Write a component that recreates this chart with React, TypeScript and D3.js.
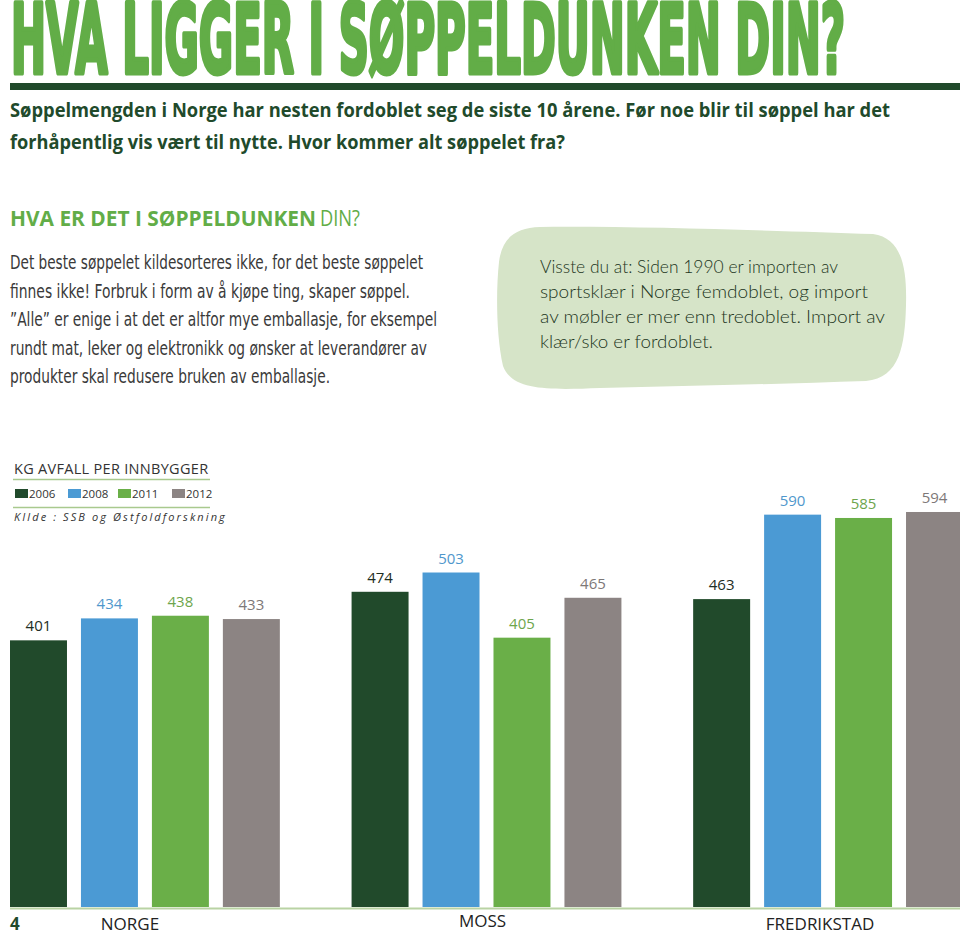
import React from "react";
import * as d3 from "d3";

const groups = ["NORGE", "MOSS", "FREDRIKSTAD"];
const years = ["2006", "2008", "2011", "2012"];
const values2006 = [401, 474, 463];
const values2008 = [434, 503, 590];
const values2011 = [438, 405, 585];
const values2012 = [433, 465, 594];
const seriesColors = ["#214a2b", "#4b9ad4", "#6aaf48", "#8c8483"];
const labelColors = ["#1e2e24", "#4f97cc", "#6ea54c", "#7d7878"];

const title = "HVA LIGGER I SØPPELDUNKEN DIN?";
const subtitleLines = [
  "Søppelmengden i Norge har nesten fordoblet seg de siste 10 årene. Før noe blir til søppel har det",
  "forhåpentlig vis vært til nytte. Hvor kommer alt søppelet fra?",
];
const headingMain = "HVA ER DET I SØPPELDUNKEN";
const headingEnd = "DIN?";
const paragraphLines = [
  "Det beste søppelet kildesorteres ikke, for det beste søppelet",
  "finnes ikke! Forbruk i form av å kjøpe ting, skaper søppel.",
  "\u201DAlle\u201D er enige i at det er altfor mye emballasje, for eksempel",
  "rundt mat, leker og elektronikk og ønsker at leverandører av",
  "produkter skal redusere bruken av emballasje.",
];
const paragraphWidths = [413, 400, 427, 417, 320];
const calloutLines = [
  "Visste du at: Siden 1990 er importen av",
  "sportsklær i Norge femdoblet, og import",
  "av møbler er mer enn tredoblet. Import av",
  "klær/sko er fordoblet.",
];
const calloutWidths = [298, 328, 345, 173];

const seriesValues = [values2006, values2008, values2011, values2012];
const groupLabelShift = [-15, -4, -8];

export default function App() {
  const W = 960;
  const H = 936;
  const baseY = 907;

  const x0 = d3.scaleBand<string>().domain(groups).range([10, 963]).paddingInner(0.21).paddingOuter(0);
  const x1 = d3.scaleBand<string>().domain(years).range([0, x0.bandwidth()]).paddingInner(0.197);
  const y = d3.scaleLinear().domain([0, 600]).range([baseY, baseY - 600 * 0.665]);

  const green = "#62ad47";
  const darkGreen = "#214a2b";

  return (
    <div>
      <style>{`body{margin:0;background:#fff}`}</style>
      <svg width={W} height={H} style={{ display: "block" }} fontFamily="'Open Sans', sans-serif">
        {/* Title */}
        <text
          x={11}
          y={73}
          fontFamily="'Liberation Sans Narrow', 'DejaVu Sans Condensed', sans-serif"
          fontWeight={700}
          fontSize={96}
          fill={green}
          stroke={green}
          strokeWidth={5}
          strokeLinejoin="round"
          textLength={834}
          lengthAdjust="spacingAndGlyphs"
        >
          {title}
        </text>
        <rect x={10} y={83} width={950} height={7} fill={darkGreen} />

        {/* Subtitle */}
        {subtitleLines.map((l, i) => (
          <text
            key={i}
            x={10}
            y={117 + i * 32}
            fontWeight={700}
            fontSize={20}
            fill={darkGreen}
            textLength={i === 0 ? 880 : 555}
            lengthAdjust="spacingAndGlyphs"
          >
            {l}
          </text>
        ))}

        {/* Section heading */}
        <text x={10} y={226} fontSize={21} fill={green} fontWeight={700} textLength={306} lengthAdjust="spacingAndGlyphs">
          {headingMain}
        </text>
        <text x={320} y={226} fontSize={21} fill={green} fontWeight={400} textLength={40} lengthAdjust="spacingAndGlyphs">
          {headingEnd}
        </text>

        {/* Paragraph */}
        {paragraphLines.map((l, i) => (
          <text
            key={i}
            x={10}
            y={269 + i * 28.5}
            fontFamily="'Liberation Sans Narrow', 'DejaVu Sans Condensed', sans-serif"
            fontSize={20}
            fill="#3a3a3a"
            textLength={paragraphWidths[i]}
            lengthAdjust="spacingAndGlyphs"
          >
            {l}
          </text>
        ))}

        {/* Callout blob */}
        <path
          d="M 540 227 C 640 226, 780 231, 873 234 C 902 238, 907 268, 906 305 C 905 345, 900 378, 866 381 C 780 384, 690 386, 600 388 C 550 390, 512 391, 503 366 C 496 335, 496 290, 499 262 C 502 238, 515 228, 540 227 Z"
          fill="#d6e4c8"
        />
        {calloutLines.map((l, i) => (
          <text
            key={i}
            x={540}
            y={273 + i * 25}
            fontFamily="Lato, sans-serif"
            fontWeight={300}
            fontSize={17}
            fill="#1c351c"
            textLength={calloutWidths[i]}
            lengthAdjust="spacingAndGlyphs"
          >
            {l}
          </text>
        ))}

        {/* Legend */}
        <text x={14} y={474} fontSize={14.5} fill="#333" letterSpacing={0.3}>
          KG AVFALL PER INNBYGGER
        </text>
        <line x1={13} x2={210} y1={479.5} y2={479.5} stroke="#a9c98e" strokeWidth={1.6} />
        {years.map((yr, i) => {
          const lx = [15, 68, 118, 172][i];
          return (
            <g key={yr}>
              <rect x={lx} y={489} width={13} height={9} fill={seriesColors[i]} />
              <text x={lx + 14} y={498} fontSize={11.5} fill="#333">
                {yr}
              </text>
            </g>
          );
        })}
        <line x1={13} x2={210} y1={507.5} y2={507.5} stroke="#a9c98e" strokeWidth={1.6} />
        <text x={14} y={521} fontSize={11} fontStyle="italic" fill="#333" letterSpacing={2.1}>
          KIlde : SSB og Østfoldforskning
        </text>

        {/* Bars */}
        {groups.map((g, gi) => (
          <g key={g} transform={`translate(${x0(g)},0)`}>
            {years.map((yr, si) => {
              const v = seriesValues[si][gi];
              const bx = x1(yr)!;
              return (
                <g key={yr}>
                  <rect x={bx} y={y(v)} width={x1.bandwidth()} height={baseY - y(v)} fill={seriesColors[si]} />
                  <text
                    x={bx + x1.bandwidth() / 2}
                    y={y(v) - 9}
                    textAnchor="middle"
                    fontSize={15}
                    fill={labelColors[si]}
                  >
                    {v}
                  </text>
                </g>
              );
            })}
          </g>
        ))}
        <line x1={10} x2={960} y1={908.5} y2={908.5} stroke="#b9d3a4" strokeWidth={2} />

        {/* Category labels */}
        <text x={10} y={930} fontSize={17} fontWeight={700} fill={darkGreen}>
          4
        </text>
        {groups.map((g, gi) => (
          <text
            key={g}
            x={x0(g)! + x0.bandwidth() / 2 + groupLabelShift[gi]}
            y={g === "MOSS" ? 927 : 930}
            textAnchor="middle"
            fontSize={17}
            fill="#222"
          >
            {g}
          </text>
        ))}
      </svg>
    </div>
  );
}
